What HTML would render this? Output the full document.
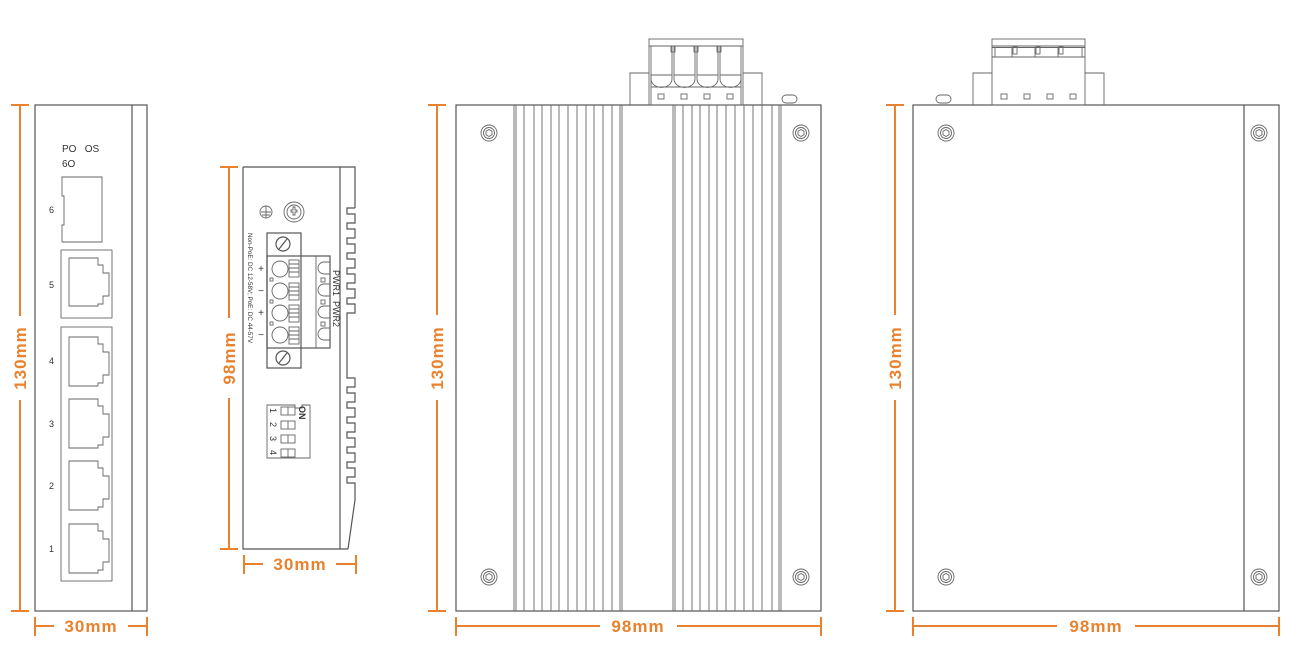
<!DOCTYPE html>
<html><head><meta charset="utf-8"><style>
html,body{margin:0;padding:0;background:#fff;}
svg{display:block;}
.l{fill:none;stroke:#555;stroke-width:1.2;}
.t{fill:none;stroke:#666;stroke-width:0.9;}
.o{stroke:#e8822e;stroke-width:2;fill:none;}
.ot{fill:#e8822e;font-family:"Liberation Sans",sans-serif;font-weight:bold;font-size:17px;letter-spacing:1px;}
.s{font-family:"Liberation Sans",sans-serif;fill:#333;}
</style></head><body>
<svg width="1302" height="653" viewBox="0 0 1302 653" xmlns="http://www.w3.org/2000/svg">
<rect width="1302" height="653" fill="#fff"/>

<!-- ===== View 1 front ===== -->
<rect class="l" x="35" y="105" width="112" height="506"/>
<line class="l" x1="132" y1="105" x2="132" y2="611"/>
<text class="s" x="62" y="152" font-size="10">PO&#160;&#160;&#160;OS</text>
<text class="s" x="62" y="167" font-size="10">6O</text>
<path class="t" d="M62 177 H102 V242 H62 V225 H64 V196 H62 Z"/>
<text class="s" x="49" y="213" font-size="9">6</text>
<!-- port 5 -->
<rect class="t" x="61" y="250" width="51" height="68"/>
<path class="t" d="M69 258 H98 V265 H103 V273 H109 V296 H103 V304 H98 V306 H69 Z"/>
<text class="s" x="49" y="288" font-size="9">5</text>
<rect class="t" x="61" y="327" width="51" height="254"/>
<g class="t">
<path d="M69 337 H98 V344 H103 V352 H109 V375 H103 V383 H98 V386 H69 Z"/>
<path d="M69 399 H98 V406 H103 V414 H109 V437 H103 V445 H98 V448 H69 Z"/>
<path d="M69 461 H98 V468 H103 V476 H109 V499 H103 V507 H98 V510 H69 Z"/>
<path d="M69 524 H98 V531 H103 V539 H109 V562 H103 V570 H98 V573 H69 Z"/>
</g>
<text class="s" x="49" y="364" font-size="9">4</text>
<text class="s" x="49" y="427" font-size="9">3</text>
<text class="s" x="49" y="489" font-size="9">2</text>
<text class="s" x="49" y="552" font-size="9">1</text>
<!-- dims -->
<line class="o" x1="20" y1="105" x2="20" y2="316"/><line class="o" x1="20" y1="400" x2="20" y2="611"/>
<line class="o" x1="11" y1="105" x2="29" y2="105"/><line class="o" x1="11" y1="611" x2="29" y2="611"/>
<text class="ot" transform="translate(26 358) rotate(-90)" text-anchor="middle">130mm</text>
<line class="o" x1="35" y1="626" x2="54" y2="626"/><line class="o" x1="128" y1="626" x2="147" y2="626"/>
<line class="o" x1="35" y1="617" x2="35" y2="636"/><line class="o" x1="147" y1="617" x2="147" y2="636"/>
<text class="ot" x="91" y="632" text-anchor="middle">30mm</text>

<!-- ===== View 2 side ===== -->
<path class="l" d="M243 167 H355 V208
 M243 167 V549 H348"/>
<line class="l" x1="340" y1="167" x2="340" y2="549"/>
<path class="l" d="M355 208 H347 V214 H355 V223 H347 V229 H355 V238 H347 V244 H355 V253 H347 V259 H355 V268 H347 V274 H355 V283 H347 V289 H355 V298 H347 V304 H355 V313 H347 V378 H355 V387 H347 V393 H355 V402 H347 V408 H355 V417 H347 V423 H355 V432 H347 V438 H355 V447 H347 V453 H355 V462 H347 V468 H355 V477 H347 V483 H355 V500 L348 549"/>
<!-- ground & screw -->
<circle class="t" cx="266" cy="212" r="6"/>
<path class="t" d="M266 206 V218 M261 212 H271 M262 215 H270"/>
<circle class="t" cx="294" cy="212" r="10"/><circle class="t" cx="294" cy="212" r="7"/>
<path class="t" d="M291 210 h2 v-3 h2 v3 h2 v2 h-2 v3 h-2 v-3 h-2z"/>
<!-- terminal -->
<rect class="l" x="267" y="233" width="34" height="135"/>
<rect class="l" x="267" y="256" width="63" height="92" fill="#fff"/>
<line class="t" x1="316" y1="256" x2="316" y2="348"/>
<circle class="l" cx="283" cy="244" r="7"/><line class="l" x1="279" y1="249" x2="287" y2="239" stroke-width="2.5"/>
<circle class="l" cx="283" cy="358" r="7"/><line class="l" x1="279" y1="363" x2="287" y2="353" stroke-width="2.5"/>
<g class="t">
<circle cx="280" cy="269" r="8"/><circle cx="280" cy="291" r="8"/><circle cx="280" cy="313" r="8"/><circle cx="280" cy="335" r="8"/>
<rect x="289" y="260" width="10" height="17"/><rect x="289" y="283" width="10" height="17"/><rect x="289" y="305" width="10" height="17"/><rect x="289" y="327" width="10" height="17"/>
<path d="M289 264h10M289 268h10M289 272h10M289 287h10M289 291h10M289 295h10M289 309h10M289 313h10M289 317h10M289 331h10M289 335h10M289 339h10"/>
<path d="M330 262 h-6 a6 6 0 0 0 0 12 h6 M330 284 h-6 a6 6 0 0 0 0 12 h6 M330 306 h-6 a6 6 0 0 0 0 12 h6 M330 328 h-6 a6 6 0 0 0 0 12 h6"/>
<rect x="321" y="278" width="4" height="4"/><rect x="321" y="300" width="4" height="4"/><rect x="321" y="322" width="4" height="4"/>
<rect x="270" y="278" width="3" height="3"/><rect x="270" y="300" width="3" height="3"/><rect x="270" y="322" width="3" height="3"/>
</g>
<text class="s" transform="translate(248 233) rotate(90)" font-size="6.3">Non-PoE: DC 12-58V; PoE: DC 44-57V</text>
<text class="s" transform="translate(333 270) rotate(90)" font-size="9">PWR1&#160;&#160;PWR2</text>
<g class="s" font-size="10" text-anchor="middle"><text x="261" y="272">+</text><text x="261" y="294">−</text><text x="261" y="316">+</text><text x="261" y="338">−</text></g>
<!-- DIP -->
<path class="t" d="M267 405 H295 V408 H302 V405 H310 V458 H267 Z"/>
<g class="t"><rect x="281" y="407" width="14" height="8"/><rect x="281" y="421" width="14" height="8"/><rect x="281" y="435" width="14" height="8"/><rect x="281" y="449" width="14" height="8"/>
<path d="M288 407v8M288 421v8M288 435v8M288 449v8"/></g>
<g class="s" font-size="9"><text transform="translate(270 408) rotate(90)">1</text><text transform="translate(270 422) rotate(90)">2</text><text transform="translate(270 436) rotate(90)">3</text><text transform="translate(270 450) rotate(90)">4</text>
<text transform="translate(299 406) rotate(90)" font-weight="bold">ON</text></g>
<!-- dims -->
<line class="o" x1="229" y1="167" x2="229" y2="318"/><line class="o" x1="229" y1="398" x2="229" y2="549"/>
<line class="o" x1="220" y1="167" x2="238" y2="167"/><line class="o" x1="220" y1="549" x2="238" y2="549"/>
<text class="ot" transform="translate(235 358) rotate(-90)" text-anchor="middle">98mm</text>
<line class="o" x1="244" y1="564" x2="263" y2="564"/><line class="o" x1="336" y1="564" x2="356" y2="564"/>
<line class="o" x1="244" y1="555" x2="244" y2="574"/><line class="o" x1="356" y1="555" x2="356" y2="574"/>
<text class="ot" x="300" y="570" text-anchor="middle">30mm</text>

<!-- ===== View 3 ===== -->
<rect class="l" x="456" y="105" width="365" height="506"/>
<g class="t">
<path d="M514 105V611M516 105V611M524 105V611M534 105V611M542 105V611M551 105V611M559 105V611M568 105V611M577 105V611M586 105V611M594 105V611M603 105V611M612 105V611M620 105V611M622 105V611"/>
<path d="M673 105V611M675 105V611M683 105V611M692 105V611M700 105V611M709 105V611M717 105V611M726 105V611M735 105V611M744 105V611M753 105V611M762 105V611M772 105V611M779 105V611M781 105V611"/>
</g>
<g class="t">
<circle cx="489" cy="133" r="8"/><circle cx="489" cy="133" r="5.5"/><path d="M489 129.5l3 1.75v3.5l-3 1.75-3-1.75v-3.5z"/>
<circle cx="801" cy="133" r="8"/><circle cx="801" cy="133" r="5.5"/><path d="M801 129.5l3 1.75v3.5l-3 1.75-3-1.75v-3.5z"/>
<circle cx="489" cy="577" r="8"/><circle cx="489" cy="577" r="5.5"/><path d="M489 573.5l3 1.75v3.5l-3 1.75-3-1.75v-3.5z"/>
<circle cx="801" cy="577" r="8"/><circle cx="801" cy="577" r="5.5"/><path d="M801 573.5l3 1.75v3.5l-3 1.75-3-1.75v-3.5z"/>
</g>
<!-- top terminal -->
<g class="t">
<path d="M630 105V73H649M743 73H762V105"/>
<rect x="649" y="39" width="94" height="66"/>
<path d="M649 46H743M651 46V105M741 46V105M672 46V75M674 46V75M695 46V75M697 46V75M718 46V75M720 46V75M651 87H741"/>
<rect x="671" y="46" width="4" height="6"/><rect x="694" y="46" width="4" height="6"/><rect x="717" y="46" width="4" height="6"/>
<path d="M651 75h21v4a10 8 0 0 1 -21 0z M674 75h21v4a10 8 0 0 1 -21 0z M697 75h21v4a10 8 0 0 1 -21 0z M720 75h21v4a10 8 0 0 1 -21 0z"/>
<rect x="658" y="94" width="6" height="5"/><rect x="681" y="94" width="6" height="5"/><rect x="704" y="94" width="6" height="5"/><rect x="727" y="94" width="6" height="5"/>
<rect x="782" y="95" width="15" height="8" rx="4"/>
</g>
<line class="o" x1="437" y1="105" x2="437" y2="315"/><line class="o" x1="437" y1="400" x2="437" y2="611"/>
<line class="o" x1="428" y1="105" x2="446" y2="105"/><line class="o" x1="428" y1="611" x2="446" y2="611"/>
<text class="ot" transform="translate(443 358) rotate(-90)" text-anchor="middle">130mm</text>
<line class="o" x1="456" y1="626" x2="600" y2="626"/><line class="o" x1="677" y1="626" x2="821" y2="626"/>
<line class="o" x1="456" y1="617" x2="456" y2="636"/><line class="o" x1="821" y1="617" x2="821" y2="636"/>
<text class="ot" x="638" y="632" text-anchor="middle">98mm</text>

<!-- ===== View 4 ===== -->
<rect class="l" x="913" y="105" width="366" height="506"/>
<line class="l" x1="1244" y1="105" x2="1244" y2="611"/>
<g class="t">
<circle cx="946" cy="133" r="8"/><circle cx="946" cy="133" r="5.5"/><path d="M946 129.5l3 1.75v3.5l-3 1.75-3-1.75v-3.5z"/>
<circle cx="1259" cy="133" r="8"/><circle cx="1259" cy="133" r="5.5"/><path d="M1259 129.5l3 1.75v3.5l-3 1.75-3-1.75v-3.5z"/>
<circle cx="946" cy="577" r="8"/><circle cx="946" cy="577" r="5.5"/><path d="M946 573.5l3 1.75v3.5l-3 1.75-3-1.75v-3.5z"/>
<circle cx="1259" cy="577" r="8"/><circle cx="1259" cy="577" r="5.5"/><path d="M1259 573.5l3 1.75v3.5l-3 1.75-3-1.75v-3.5z"/>
<path d="M973 105V73H992M1085 73H1104V105"/>
<rect x="992" y="39" width="93" height="66"/>
<path d="M992 46H1085M992 47.5H1085M992 57H1085M995 47V57M1082 47V57M1012 47V57M1035 47V57M1058 47V57"/>
<rect x="1013" y="47" width="4" height="7"/><rect x="1036" y="47" width="4" height="7"/><rect x="1059" y="47" width="4" height="7"/>
<rect x="1001" y="94" width="6" height="5"/><rect x="1024" y="94" width="6" height="5"/><rect x="1047" y="94" width="6" height="5"/><rect x="1070" y="94" width="6" height="5"/>
<rect x="936" y="95" width="15" height="8" rx="4"/>
</g>
<line class="o" x1="895" y1="105" x2="895" y2="315"/><line class="o" x1="895" y1="400" x2="895" y2="611"/>
<line class="o" x1="886" y1="105" x2="904" y2="105"/><line class="o" x1="886" y1="611" x2="904" y2="611"/>
<text class="ot" transform="translate(901 358) rotate(-90)" text-anchor="middle">130mm</text>
<line class="o" x1="913" y1="626" x2="1057" y2="626"/><line class="o" x1="1135" y1="626" x2="1279" y2="626"/>
<line class="o" x1="913" y1="617" x2="913" y2="636"/><line class="o" x1="1279" y1="617" x2="1279" y2="636"/>
<text class="ot" x="1096" y="632" text-anchor="middle">98mm</text>
</svg>
</body></html>
